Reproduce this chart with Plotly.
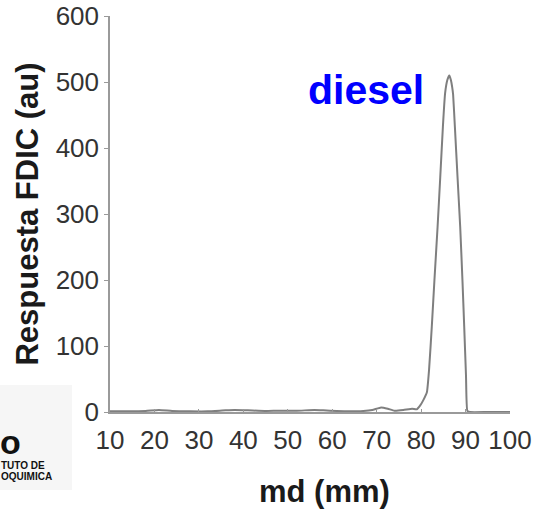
import plotly.graph_objects as go

# Data
md_mm = [10, 14, 18, 21, 24, 28, 32, 36, 38, 41, 45, 48, 52, 56, 58, 61, 64, 67, 69,
         71, 72.5, 74, 76, 78, 79, 79.8, 80.5, 81.3, 81.8, 82.4, 83.0, 83.7, 84.3, 84.9,
         85.4, 85.9, 86.35, 86.7, 87.0, 87.2, 87.6, 88.2, 88.8, 89.3, 89.7, 90.1, 90.4, 91, 95, 100]
respuesta = [1, 1, 1.5, 3, 1.5, 1, 1, 2.5, 3, 2.5, 1.5, 2, 2, 3, 2.5, 1.5, 1, 1.5, 3,
             7, 5, 2, 3, 5, 4, 10, 18, 30, 65, 129, 200, 280, 355, 432,
             483, 503, 510, 503, 492, 481, 432, 355, 280, 200, 129, 55, 2, 0, 0, 0]

x_ticks = [10, 20, 30, 40, 50, 60, 70, 80, 90, 100]
y_ticks = [0, 100, 200, 300, 400, 500, 600]

FONT = "Liberation Sans, Arial, sans-serif"

fig = go.Figure()
fig.add_trace(go.Scatter(
    x=md_mm, y=respuesta, mode="lines",
    line=dict(color="#7f7f7f", width=2, shape="spline", smoothing=0.4),
    hoverinfo="skip", showlegend=False, cliponaxis=False,
))

fig.update_layout(
    width=539, height=509,
    margin=dict(l=110, r=29, t=16, b=97, autoexpand=False),
    paper_bgcolor="white", plot_bgcolor="white",
    font=dict(family=FONT, color="#333333"),
    xaxis=dict(
        range=[10, 100], tickvals=x_ticks, ticktext=[str(v) for v in x_ticks],
        showgrid=False, zeroline=False, showline=True, linecolor="#9a9a9a", linewidth=1.5,
        ticks="inside", ticklen=3, tickcolor="#9a9a9a",
        tickfont=dict(size=26, color="#333333", family=FONT),
        ticklabelstandoff=4, automargin=False,
    ),
    yaxis=dict(
        range=[0, 600], tickvals=y_ticks,
        showgrid=False, zeroline=False, showline=True, linecolor="#9a9a9a", linewidth=1.5,
        ticks="outside", ticklen=4, tickcolor="#9a9a9a",
        tickfont=dict(size=26, color="#333333", family=FONT),
        title=dict(text="<b>Respuesta FDIC (au)</b>", font=dict(size=31, color="#1a1a1a", family=FONT), standoff=8),
        automargin=False,
    ),
)

# logo background (lower-left)
fig.add_shape(type="rect", xref="paper", yref="paper",
              x0=-0.275, x1=-0.095, y0=-0.197, y1=0.068,
              fillcolor="#f6f6f6", line=dict(width=0), layer="below")

annotations = [
    dict(text="<b>diesel</b>", x=0.64, y=0.813, xref="paper", yref="paper",
         showarrow=False, font=dict(size=41, color="#0000ff", family=FONT),
         xanchor="center", yanchor="middle"),
    dict(text="<b>md (mm)</b>", x=0.535, y=-0.202, xref="paper", yref="paper",
         showarrow=False, font=dict(size=31, color="#1a1a1a", family=FONT),
         xanchor="center", yanchor="middle"),
    dict(text="<b>o</b>", x=-0.28, y=-0.075, xref="paper", yref="paper",
         showarrow=False, font=dict(size=34, color="#111111", family=FONT),
         xanchor="left", yanchor="middle"),
    dict(text="<b>TUTO DE</b>", x=-0.277, y=-0.136, xref="paper", yref="paper",
         showarrow=False, font=dict(size=10, color="#111111", family=FONT),
         xanchor="left", yanchor="middle"),
    dict(text="<b>OQUIMICA</b>", x=-0.277, y=-0.164, xref="paper", yref="paper",
         showarrow=False, font=dict(size=10, color="#111111", family=FONT),
         xanchor="left", yanchor="middle"),
]
fig.update_layout(annotations=annotations)

fig.write_html("out.html", config={"displayModeBar": False},
               post_script="document.body.style.margin='0';document.body.style.padding='0';")
